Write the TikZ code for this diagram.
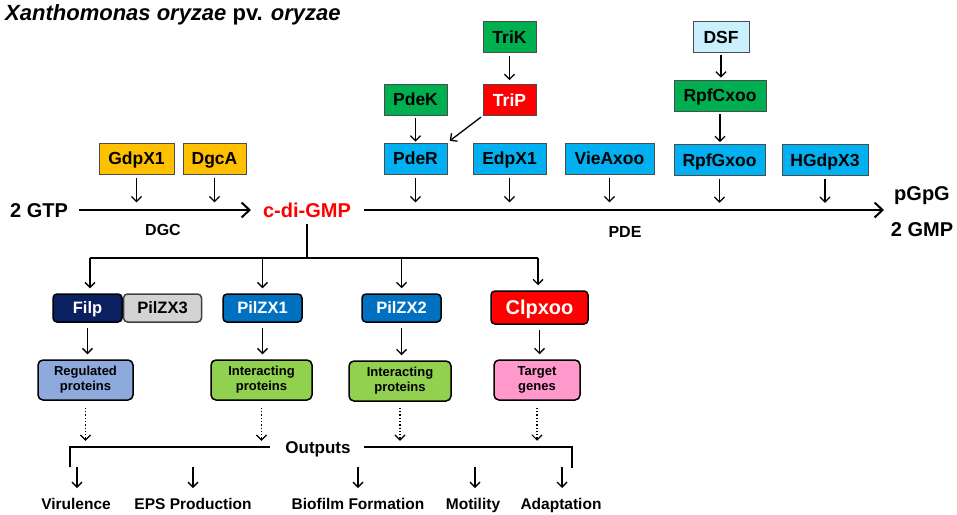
\documentclass[tikz,border=0pt]{standalone}
\usepackage{fontspec}
\setmainfont{Liberation Sans}
\usepackage{xcolor}
\usetikzlibrary{arrows.meta,positioning}
\definecolor{gold}{HTML}{FFC000}
\definecolor{leaf}{HTML}{00B050}
\definecolor{sky}{HTML}{00B0F0}
\definecolor{pale}{HTML}{C9F0FC}
\definecolor{navy}{HTML}{0A2060}
\definecolor{royal}{HTML}{0070C0}
\definecolor{lilac}{HTML}{8EA9DB}
\definecolor{lime}{HTML}{92D050}
\definecolor{rose}{HTML}{FF99CC}
\definecolor{silver}{HTML}{D3D3D3}

\begin{document}
\begin{tikzpicture}[x=1pt,y=-1pt,
    box/.style={draw=black!70, line width=0.8pt, minimum height=31pt, inner sep=0pt,
      text height=12.3pt, text depth=0pt, font=\bfseries\fontsize{17.5}{19}\selectfont},
    pill/.style={draw=black, line width=1.5pt, rounded corners=4pt, minimum height=28pt,
      inner sep=0pt, text height=11.8pt, text depth=0pt, font=\bfseries\fontsize{16.5}{19}\selectfont},
    card/.style={draw=black, line width=1.5pt, rounded corners=5pt, minimum height=40pt,
      inner sep=0pt, align=center, font=\bfseries\fontsize{13}{15}\selectfont},
    word/.style={anchor=base, inner sep=1pt, font=\bfseries\fontsize{20}{22}\selectfont},
    small/.style={anchor=base, inner sep=1pt, font=\bfseries\fontsize{16}{18}\selectfont},
    outlabel/.style={anchor=base, inner sep=1pt, font=\bfseries\fontsize{15.5}{17}\selectfont},
    tip/.style={-{Straight Barb[length=5pt,width=10pt]}, line width=1.3pt},
    dots/.style={tip, dotted, line width=1.2pt},
    big/.style={-{Straight Barb[length=8pt,width=15pt]}, line width=2pt}]
    \useasboundingbox (0,0) rectangle (957,514);

    \node[anchor=base west, inner sep=0pt, font=\bfseries\fontsize{22}{24}\selectfont] (title) at (5,20)
      {\textit{Xanthomonas oryzae} pv. \textit{oryzae}};

    \node[box, fill=leaf, minimum width=53pt] (trik) at (509.5,37) {TriK};
    \node[box, fill=pale, minimum width=56pt] (dsf) at (721,37) {DSF};
    \node[box, fill=leaf, minimum width=63pt] (pdek) at (415.5,99.5) {PdeK};
    \node[box, fill=red, text=white, minimum width=53pt] (trip) at (509.5,100) {TriP};
    \node[box, fill=leaf, minimum width=92pt] (rpfc) at (720,95.5) {RpfCxoo};

    \node[box, fill=gold, minimum width=75pt] (gdpx1) at (136.5,158.5) {GdpX1};
    \node[box, fill=gold, minimum width=63pt] (dgca) at (214.5,158.5) {DgcA};
    \node[box, fill=sky, minimum width=63pt] (pder) at (415.5,158.5) {PdeR};
    \node[box, fill=sky, minimum width=73pt] (edpx1) at (509.5,158.5) {EdpX1};
    \node[box, fill=sky, minimum width=89pt] (vieaxoo) at (609.5,158.5) {VieAxoo};
    \node[box, fill=sky, minimum width=91pt] (rpfg) at (719.5,160) {RpfGxoo};
    \node[box, fill=sky, minimum width=86pt] (hgdpx3) at (825,160) {HGdpX3};

    \draw[tip, shorten <=3pt, shorten >=4pt] (trik) -- (trip);
    \draw[tip, shorten <=2pt, shorten >=2pt] (dsf) -- (dsf |- rpfc.north);
    \draw[tip, shorten <=3pt, shorten >=1pt] (pdek) -- (pder);
    \draw[tip, shorten <=3pt, shorten >=2pt] (rpfc) -- (rpfc |- rpfg.north);
    \draw[tip, shorten <=2pt, shorten >=3pt] (trip.south west) -- (pder.north east);

    \draw[tip] (gdpx1.south) ++(0,4) -- ++(0,24);
    \draw[tip] (dgca.south) ++(0,4) -- ++(0,24);
    \draw[tip] (pder.south) ++(0,4) -- ++(0,24);
    \draw[tip] (edpx1.south) ++(0,4) -- ++(0,24);
    \draw[tip] (vieaxoo.south) ++(0,4) -- ++(0,24);
    \draw[tip] (rpfg.south) ++(0,3) -- ++(0,24);
    \draw[tip] (hgdpx3.south) ++(0,3) -- ++(0,24);

    \node[word] (gtp) at (39,217) {2 GTP};
    \node[word, text=red] (cdg) at (307,217.5) {c-di-GMP};
    \node[word] (pgpg) at (922,200) {pGpG};
    \node[word] (gmp) at (922,236) {2 GMP};
    \node[small] (dgc) at (163,235) {DGC};
    \node[small] (pde) at (625,237) {PDE};
    \coordinate (pdeend) at (884,210);
    \coordinate (gtpend) at (251,210);
    \draw[big] (gtp.east |- gtpend) ++(10,0) -- (gtpend);
    \draw[big] (cdg.east |- pdeend) ++(12,0) -- (pdeend);

    \node[pill, fill=navy, text=white, minimum width=69pt] (filp) at (87.5,308) {Filp};
    \node[pill, draw=black!75, fill=silver, minimum width=78pt, right=0pt of filp] (pilzx3) {PilZX3};
    \node[pill, fill=royal, text=white, minimum width=79pt] (pilzx1) at (262.5,308) {PilZX1};
    \node[pill, fill=royal, text=white, minimum width=79pt] (pilzx2) at (401.5,308) {PilZX2};
    \node[pill, fill=red, text=white, minimum width=97pt, minimum height=33pt, text height=14.3pt,
      font=\bfseries\fontsize{20}{22}\selectfont] (clpxoo) at (539.5,307.5) {Clpxoo};

    \coordinate (hub) at (307,258);
    \coordinate (b1) at (90,258);
    \coordinate (b4) at (538,258);
    \draw[line width=2pt] (cdg.south |- 0,224) -- (hub);
    \draw[line width=2pt] (b1) -- (b4);
    \draw[tip, shorten >=5pt] (b1) -- (b1 |- filp.north);
    \draw[tip, shorten >=5pt] (pilzx1.north |- hub) -- (pilzx1.north);
    \draw[tip, shorten >=5pt] (pilzx2.north |- hub) -- (pilzx2.north);
    \draw[tip, shorten >=5pt] (b4) -- (b4 |- clpxoo.north);

    \node[card, fill=lilac, minimum width=95pt] (reg) at (85.5,380) {Regulated\\proteins};
    \node[card, fill=lime, minimum width=101pt] (int1) at (261.5,380) {Interacting\\proteins};
    \node[card, fill=lime, minimum width=102pt] (int2) at (400,381) {Interacting\\proteins};
    \node[card, fill=rose, minimum width=86pt] (target) at (537,380) {Target\\genes};

    \draw[tip, shorten <=5pt, shorten >=5pt] (filp.south) -- (filp.south |- reg.north);
    \draw[tip, shorten <=5pt, shorten >=5pt] (pilzx1.south) -- (pilzx1.south |- int1.north);
    \draw[tip, shorten <=5pt, shorten >=5pt] (pilzx2.south) -- (pilzx2.south |- int2.north);
    \draw[tip, shorten <=5pt, shorten >=5pt] (clpxoo.south) -- (clpxoo.south |- target.north);

    \node[anchor=base, inner sep=1pt, font=\bfseries\fontsize{17}{19}\selectfont] (outputs) at (318,453) {Outputs};
    \coordinate (ol) at (70,467);
    \coordinate (or) at (572,468);
    \draw[line width=2.2pt] (ol) -- (ol |- 0,447) -- (270,447);
    \draw[line width=2.2pt] (364,447) -- (or |- 0,447) -- (or);

    \draw[dots] (reg.south) ++(0,7) -- ++(0,33);
    \draw[dots] (int1.south) ++(0,7) -- ++(0,33);
    \draw[dots] (int2.south) ++(0,6) -- ++(0,33);
    \draw[dots] (target.south) ++(0,7) -- ++(0,33);

    \node[outlabel] (vir) at (76,509) {Virulence};
    \node[outlabel] (eps) at (193,509) {EPS Production};
    \node[outlabel] (bio) at (358,509) {Biofilm Formation};
    \node[outlabel] (mot) at (473,509) {Motility};
    \node[outlabel] (ada) at (561,509) {Adaptation};
    \draw[tip] (vir |- ol) ++(1,0) -- ++(0,21);
    \draw[tip] (eps |- ol) -- ++(0,21);
    \draw[tip] (bio |- ol) -- ++(0,21);
    \draw[tip] (mot |- ol) ++(2,0) -- ++(0,21);
    \draw[tip] (ada |- ol) ++(1,0) -- ++(0,21);
\end{tikzpicture}
\end{document}
